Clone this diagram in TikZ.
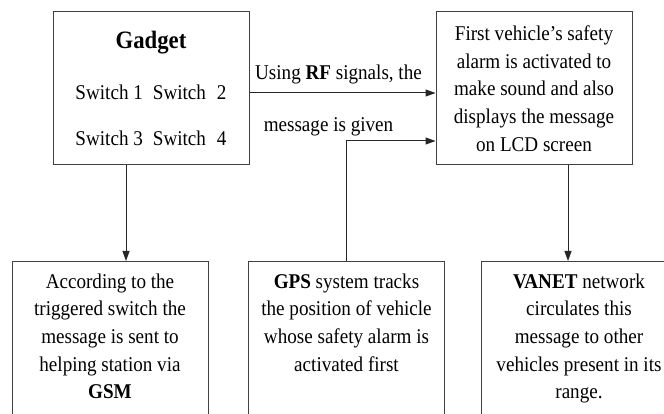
\documentclass[tikz,border=0pt]{standalone}
\usepackage{fontspec}
\setmainfont[FakeStretch=0.91]{Liberation Serif}
\usepackage{tikz}
\usetikzlibrary{arrows.meta,positioning}

\begin{document}
\begin{tikzpicture}[
	x=1pt, y=-1pt,
	box/.style = {shape=rectangle, draw=black!75, line width=1pt,
	align=center, inner sep=0pt,
	minimum width=196pt, minimum height=153pt,
	font=\fontsize{21}{27.7}\selectfont},
	low/.style = {box, anchor=north, inner ysep=12pt},
	lbl/.style = {align=center, inner sep=0pt, font=\fontsize{21}{24}\selectfont},
	link/.style = {-{Triangle[length=10pt,width=7pt]}, draw=black!85, line width=1pt}
]
\useasboundingbox (0,0) rectangle (664,414);
\clip (0,0) rectangle (664,414);
% top row
\node[box] (gadget) at (151,88.5) {{\fontsize{25}{28}\selectfont\textbf{Gadget}}\\[23pt]
	Switch 1\hspace{10pt}Switch\hspace{11pt}2\\[19pt]
	Switch 3\hspace{10pt}Switch\hspace{11pt}4};
\node[box, right=186pt of gadget] (alarm) {First vehicle's safety\\
	alarm is activated to\\ make sound and also\\
	displays the message\\ on LCD screen};
% bottom row
\node[low] (gsm) at (110,261) {\parbox[t][150pt][t]{196pt}{\centering
	According to the\\ triggered switch the\\ message is sent to\\
	helping station via\\ \textbf{GSM}}};
\node[low] (gps) at (346.5,261) {\parbox[t][150pt][t]{196pt}{\centering
	\textbf{GPS} system tracks\\ the position of vehicle\\
	whose safety alarm is\\ activated first}};
\node[low] (vanet) at (579,261) {\parbox[t][150pt][t]{196pt}{\centering
	\textbf{VANET} network\\ circulates this\\ message to other\\
	vehicles present in its\\ range.}};
% labels
\node[lbl] (rf) at (338.5,74) {Using \textbf{RF} signals, the};
\node[lbl] (given) at (328.5,127) {message is given};
% links
\draw[link] ([yshift=-4.5pt]gadget.east) -- ([yshift=-4.5pt]alarm.west);
\draw[link] (gps.north) |- ([yshift=-52.5pt]alarm.west);
\draw[link] ([xshift=-25pt]gadget.south) -- ([xshift=-25pt]gadget.south |- gsm.north);
\draw[link] ([xshift=34pt]alarm.south) -- ([xshift=34pt]alarm.south |- vanet.north);
\end{tikzpicture}
\end{document}
